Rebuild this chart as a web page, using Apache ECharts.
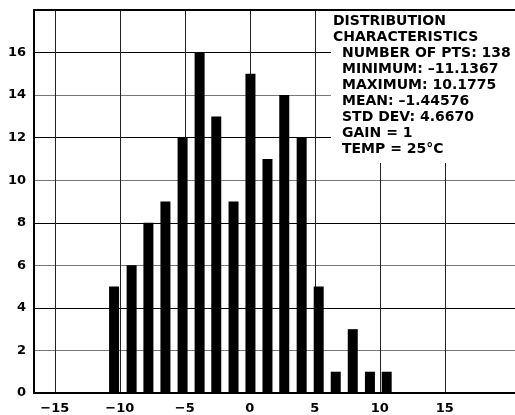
<!DOCTYPE html>
<html>
<head>
<meta charset="utf-8">
<script src="https://cdn.jsdelivr.net/npm/echarts@6/dist/echarts.min.js"></script>
<style>html,body{margin:0;padding:0;background:#fff}#c{width:515px;height:415px}</style>
</head>
<body>
<div id="c"></div>
<script>
// Bin centres (value units) and counts
var binCenters = [-10.44, -9.09, -7.80, -6.49, -5.17, -3.86, -2.58, -1.25, 0.05, 1.36, 2.65, 3.99, 5.30, 6.61, 7.92, 9.24, 10.53];
var counts     = [5, 6, 8, 9, 12, 16, 13, 9, 15, 11, 14, 12, 5, 1, 3, 1, 1];
var xTicks = [-15, -10, -5, 0, 5, 10, 15];
var yTicks = [0, 2, 4, 6, 8, 10, 12, 14, 16];
var headerLines = ['DISTRIBUTION', 'CHARACTERISTICS'];
var statLines = ['NUMBER OF PTS: 138', 'MINIMUM: \u201311.1367', 'MAXIMUM: 10.1775', 'MEAN: \u20131.44576', 'STD DEV: 4.6670', 'GAIN = 1', 'TEMP = 25\u00B0C'];

var FONT = 'DejaVu Sans';
var chart = echarts.init(document.getElementById('c'), null, {renderer: 'canvas'});
var barData = binCenters.map(function (x, i) { return [x, counts[i]]; });

chart.setOption({
  animation: false,
  backgroundColor: '#fff',
  grid: {left: 34, top: 10, right: -7, bottom: 22, containLabel: false},
  xAxis: [{
    type: 'value', position: 'bottom', min: -16.6, max: 20.4,
    axisLine: {show: true, onZero: false, lineStyle: {color: '#000', width: 2}},
    axisTick: {show: false, customValues: xTicks},
    axisLabel: {customValues: xTicks, margin: 9, color: '#000', fontFamily: FONT, fontWeight: 'bold', fontSize: 13,
      formatter: function (v) { return String(v).replace('-', '\u2212'); }},
    splitLine: {show: true, lineStyle: {color: '#222', width: 1}}
  }, {
    type: 'value', position: 'top', min: -16.6, max: 20.4,
    axisLine: {show: true, onZero: false, lineStyle: {color: '#000', width: 2}},
    axisTick: {show: false}, axisLabel: {show: false}, splitLine: {show: false}
  }],
  yAxis: {
    type: 'value', min: 0, max: 18, interval: 2,
    axisLine: {show: true, onZero: false, lineStyle: {color: '#000', width: 2}},
    axisTick: {show: false},
    axisLabel: {margin: 8, color: '#000', fontFamily: FONT, fontWeight: 'bold', fontSize: 13,
      formatter: function (v) { return yTicks.indexOf(v) >= 0 ? String(v) : ''; }},
    splitLine: {show: true, lineStyle: {color: ['#000', '#777'], width: 1}}
  },
  series: [{
    type: 'bar', xAxisIndex: 0, data: barData, barWidth: 10,
    itemStyle: {color: '#000'}
  }],
  graphic: [
    {type: 'rect', z: 100, shape: {x: 331, y: 11, width: 190, height: 152}, style: {fill: '#fff'}},
    {type: 'text', z: 101, x: 333, y: 13, style: {text: headerLines.join('\n'), fill: '#000',
      font: 'bold 14px "DejaVu Sans"', lineHeight: 16.1, textVerticalAlign: 'top'}},
    {type: 'text', z: 101, x: 342, y: 45.2, style: {text: statLines.join('\n'), fill: '#000',
      font: 'bold 14px "DejaVu Sans"', lineHeight: 16.1, textVerticalAlign: 'top'}}
  ]
});
</script>
</body>
</html>
